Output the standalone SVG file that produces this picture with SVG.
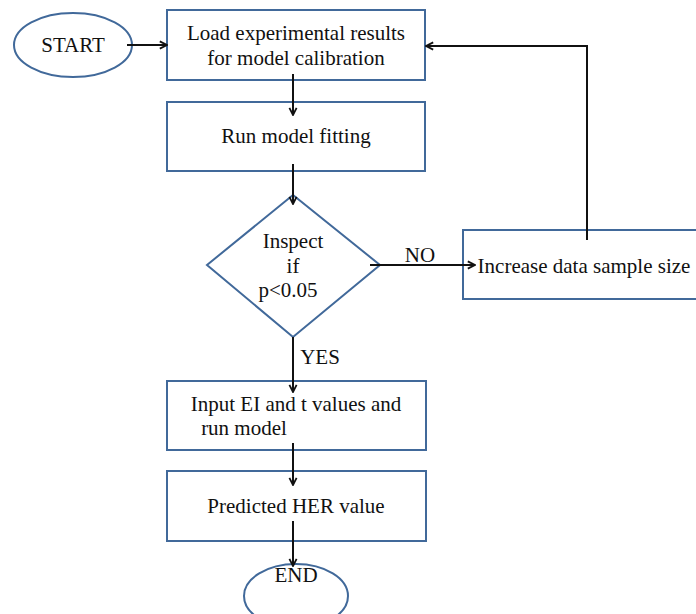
<svg xmlns="http://www.w3.org/2000/svg" width="696" height="614" viewBox="0 0 696 614">
<style>
.n{fill:#fff;stroke:#41699a;stroke-width:2}
.t{font-family:'Liberation Serif','Times New Roman','DejaVu Serif',serif;font-size:21px;fill:#111;text-anchor:middle}
.c{fill:none;stroke:#111;stroke-width:2}
</style>
<defs>
<marker id="a" viewBox="0 0 10 10" refX="9" refY="5" markerWidth="9" markerHeight="10" orient="auto" markerUnits="userSpaceOnUse">
<path d="M1,1 L9,5 L1,9" fill="none" stroke="#111" stroke-width="2"/>
</marker>
</defs>
<rect width="696" height="614" fill="#fff"/>
<g id="start"><ellipse class="n" cx="73" cy="45" rx="59" ry="32"/><text class="t" x="73" y="52" font-family="Liberation Serif, serif">START</text></g>
<g id="load"><rect class="n" x="167" y="10" width="258" height="70"/><text class="t" x="296" y="40">Load experimental results</text><text class="t" x="296" y="65">for model calibration</text></g>
<g id="fit"><rect class="n" x="167" y="102" width="258" height="69"/><text class="t" x="296" y="143">Run model fitting</text></g>
<g id="inspect"><polygon class="n" points="293,195 380,265 293,337 207,265"/><text class="t" x="293" y="248">Inspect</text><text class="t" x="293" y="273">if</text><text class="t" x="288" y="297">p&lt;0.05</text></g>
<g id="increase"><rect class="n" x="463" y="230" width="245" height="69"/><text class="t" x="584" y="273">Increase data sample size</text></g>
<g id="input"><rect class="n" x="167" y="381" width="259" height="69"/><text class="t" x="296" y="411">Input EI and t values and</text><text class="t" x="244" y="435">run model</text></g>
<g id="predict"><rect class="n" x="167" y="471" width="259" height="70"/><text class="t" x="296" y="513">Predicted HER value</text></g>
<g id="end"><ellipse class="n" cx="296" cy="596" rx="52" ry="32"/><text class="t" x="296" y="582">END</text></g>
<g id="connectors">
<line class="c" x1="127" y1="45" x2="167" y2="45" marker-end="url(#a)"/>
<line class="c" x1="293" y1="74" x2="293" y2="115" marker-end="url(#a)"/>
<line class="c" x1="293" y1="164" x2="293" y2="204" marker-end="url(#a)"/>
<line class="c" x1="370" y1="265" x2="475" y2="265" marker-end="url(#a)"/>
<polyline class="c" points="587,240 587,46 426,46" marker-end="url(#a)"/>
<line class="c" x1="293" y1="337" x2="293" y2="392" marker-end="url(#a)"/>
<line class="c" x1="293" y1="443" x2="293" y2="485" marker-end="url(#a)"/>
<line class="c" x1="293" y1="521" x2="293" y2="566" marker-end="url(#a)"/>
<text class="t" x="420" y="262">NO</text>
<text class="t" x="320" y="364">YES</text>
</g>
</svg>
